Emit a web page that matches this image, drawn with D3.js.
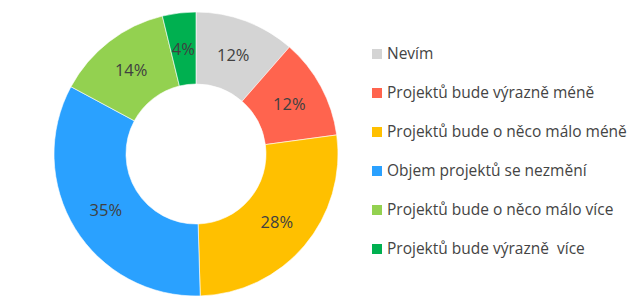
<!DOCTYPE html>
<html lang="cs">
  <head>
    <meta charset="utf-8">
    <title>Objem projektů</title>
    <style type="text/css">
      body { margin: 0; background: #fff; }
      svg text { font-family: "Open Sans", sans-serif; }
    </style>
    <script src="https://d3js.org/d3.v7.min.js"></script>
  </head>
  <body>
    <div id="chart"></div>
    <script>
    // answers, in the order they go round the ring (clockwise from the top)
    var categories = ["Nevím", "Projektů bude výrazně méně", "Projektů bude o něco málo méně",
                      "Objem projektů se nezmění", "Projektů bude o něco málo více", "Projektů bude výrazně  více"];
    var values = [12, 12, 28, 35, 14, 4];
    var colors = ["#d4d4d4", "#ff644e", "#ffc000", "#2aa1ff", "#93d150", "#00b050"];

    var width = 637, height = 302;
    var cx = 196, cy = 154, outerR = 142, innerR = 70;

    var svg = d3.select("#chart").append("svg")
      .attr("width", width)
      .attr("height", height);

    var g = svg.append("g")
      .attr("transform", "translate(" + cx + "," + cy + ")");

    var pie = d3.pie().sort(null).value(function(d){ return d.value; });
    var arc = d3.arc().innerRadius(innerR).outerRadius(outerR);
    var labelArc = d3.arc().innerRadius(106).outerRadius(106);

    var data = categories.map(function(c, i){ return {name: c, value: values[i], color: colors[i]}; });
    var arcs = pie(data);

    g.selectAll("path")
      .data(arcs)
      .enter()
      .append("path")
        .attr("d", arc)
        .attr("fill", function(d){ return d.data.color; })
        .attr("stroke", "#fff")
        .attr("stroke-width", 0.6);

    // percentage labels in the middle of the ring
    g.selectAll("text.pct")
      .data(arcs)
      .enter()
      .append("text")
        .attr("class", "pct")
        .attr("transform", function(d){ return "translate(" + labelArc.centroid(d) + ")"; })
        .attr("text-anchor", "middle")
        .attr("dy", "0.35em")
        .attr("font-size", "16.5px")
        .attr("fill", "#404040")
        .text(function(d){ return d.data.value + "%"; });

    // legend on the right
    var legendY = d3.scalePoint()
      .domain(categories)
      .range([54, 249]);

    var legend = svg.selectAll("g.legend")
      .data(data)
      .enter()
      .append("g")
        .attr("class", "legend")
        .attr("transform", function(d){ return "translate(372," + legendY(d.name) + ")"; });

    legend.append("rect")
      .attr("x", 0)
      .attr("y", -5)
      .attr("width", 10)
      .attr("height", 10)
      .attr("fill", function(d){ return d.color; });

    legend.append("text")
      .attr("x", 15)
      .attr("dy", "0.35em")
      .attr("font-size", "15.5px")
      .attr("fill", "#444")
      .style("white-space", "pre")
      .text(function(d){ return d.name; });
    </script>
  </body>
</html>
